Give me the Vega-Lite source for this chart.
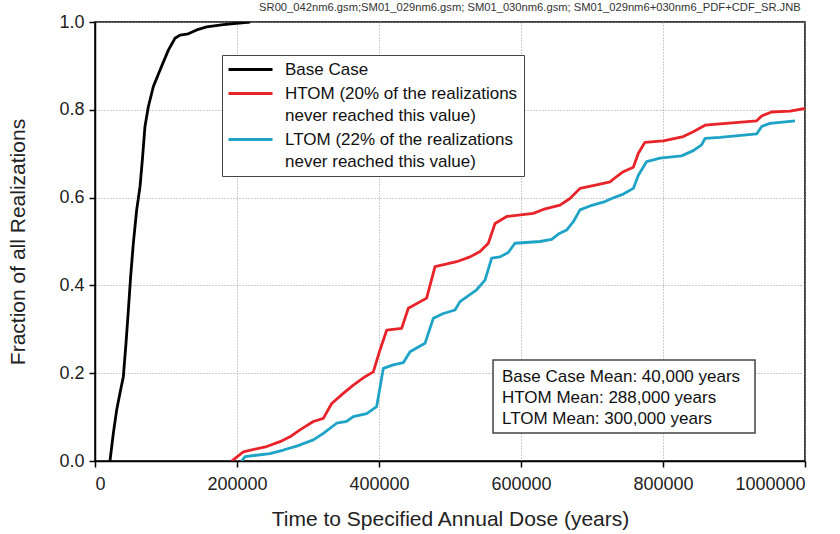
{
  "$schema": "https://vega.github.io/schema/vega-lite/v6.json",
  "width": 710,
  "height": 439,
  "autosize": {"type": "none"},
  "padding": {"left": 95, "top": 22, "right": 35, "bottom": 73},
  "background": "white",
  "title": {
    "text": "SR00_042nm6.gsm;SM01_029nm6.gsm; SM01_030nm6.gsm; SM01_029nm6+030nm6_PDF+CDF_SR.JNB",
    "anchor": "end",
    "fontSize": 11.2,
    "fontWeight": "normal",
    "font": "Liberation Sans",
    "color": "#333333",
    "offset": 0,
    "dx": -5
  },
  "config": {
    "font": "Liberation Sans",
    "view": {"stroke": "#000000", "strokeWidth": 1.5},
    "axis": {
      "domainColor": "#000000",
      "domainWidth": 1.5,
      "tickColor": "#000000",
      "tickWidth": 1.5,
      "tickSize": 6,
      "labelFontSize": 18,
      "labelColor": "#222222",
      "titleFontSize": 21,
      "titleFontWeight": "normal",
      "titleColor": "#222222",
      "grid": true,
      "gridColor": "#9a9a9a",
      "gridDash": [1, 2],
      "gridWidth": 1
    }
  },
  "datasets": {
    "cdf": [
      {"series": "Base Case", "years": 21100, "fraction": 0.0},
      {"series": "Base Case", "years": 25800, "fraction": 0.063},
      {"series": "Base Case", "years": 30500, "fraction": 0.116},
      {"series": "Base Case", "years": 35200, "fraction": 0.155},
      {"series": "Base Case", "years": 39900, "fraction": 0.192},
      {"series": "Base Case", "years": 43700, "fraction": 0.269},
      {"series": "Base Case", "years": 47000, "fraction": 0.344},
      {"series": "Base Case", "years": 50200, "fraction": 0.42},
      {"series": "Base Case", "years": 54000, "fraction": 0.496},
      {"series": "Base Case", "years": 58700, "fraction": 0.572},
      {"series": "Base Case", "years": 63400, "fraction": 0.625},
      {"series": "Base Case", "years": 66700, "fraction": 0.686},
      {"series": "Base Case", "years": 70400, "fraction": 0.762},
      {"series": "Base Case", "years": 75100, "fraction": 0.807},
      {"series": "Base Case", "years": 82200, "fraction": 0.853},
      {"series": "Base Case", "years": 91500, "fraction": 0.89},
      {"series": "Base Case", "years": 103300, "fraction": 0.936},
      {"series": "Base Case", "years": 112700, "fraction": 0.963},
      {"series": "Base Case", "years": 119700, "fraction": 0.97},
      {"series": "Base Case", "years": 131400, "fraction": 0.973},
      {"series": "Base Case", "years": 143200, "fraction": 0.982},
      {"series": "Base Case", "years": 157300, "fraction": 0.989},
      {"series": "Base Case", "years": 180700, "fraction": 0.994},
      {"series": "Base Case", "years": 218300, "fraction": 1.0},

      {"series": "HTOM", "years": 192500, "fraction": 0.0},
      {"series": "HTOM", "years": 208900, "fraction": 0.021},
      {"series": "HTOM", "years": 241800, "fraction": 0.033},
      {"series": "HTOM", "years": 260600, "fraction": 0.044},
      {"series": "HTOM", "years": 274600, "fraction": 0.055},
      {"series": "HTOM", "years": 288700, "fraction": 0.071},
      {"series": "HTOM", "years": 307500, "fraction": 0.09},
      {"series": "HTOM", "years": 321600, "fraction": 0.097},
      {"series": "HTOM", "years": 333400, "fraction": 0.131},
      {"series": "HTOM", "years": 349700, "fraction": 0.154},
      {"series": "HTOM", "years": 363800, "fraction": 0.173},
      {"series": "HTOM", "years": 380300, "fraction": 0.192},
      {"series": "HTOM", "years": 392000, "fraction": 0.203},
      {"series": "HTOM", "years": 401400, "fraction": 0.253},
      {"series": "HTOM", "years": 410800, "fraction": 0.298},
      {"series": "HTOM", "years": 431900, "fraction": 0.302},
      {"series": "HTOM", "years": 441300, "fraction": 0.348},
      {"series": "HTOM", "years": 467100, "fraction": 0.371},
      {"series": "HTOM", "years": 478900, "fraction": 0.443},
      {"series": "HTOM", "years": 509400, "fraction": 0.454},
      {"series": "HTOM", "years": 528200, "fraction": 0.465},
      {"series": "HTOM", "years": 542300, "fraction": 0.477},
      {"series": "HTOM", "years": 554000, "fraction": 0.496},
      {"series": "HTOM", "years": 563400, "fraction": 0.541},
      {"series": "HTOM", "years": 579900, "fraction": 0.557},
      {"series": "HTOM", "years": 617300, "fraction": 0.564},
      {"series": "HTOM", "years": 631400, "fraction": 0.573},
      {"series": "HTOM", "years": 654900, "fraction": 0.583},
      {"series": "HTOM", "years": 669000, "fraction": 0.598},
      {"series": "HTOM", "years": 683100, "fraction": 0.621},
      {"series": "HTOM", "years": 706600, "fraction": 0.629},
      {"series": "HTOM", "years": 725400, "fraction": 0.636},
      {"series": "HTOM", "years": 734700, "fraction": 0.648},
      {"series": "HTOM", "years": 744100, "fraction": 0.659},
      {"series": "HTOM", "years": 758200, "fraction": 0.669},
      {"series": "HTOM", "years": 765300, "fraction": 0.701},
      {"series": "HTOM", "years": 774600, "fraction": 0.726},
      {"series": "HTOM", "years": 800400, "fraction": 0.729},
      {"series": "HTOM", "years": 828600, "fraction": 0.739},
      {"series": "HTOM", "years": 842600, "fraction": 0.75},
      {"series": "HTOM", "years": 859200, "fraction": 0.765},
      {"series": "HTOM", "years": 880300, "fraction": 0.768},
      {"series": "HTOM", "years": 931900, "fraction": 0.775},
      {"series": "HTOM", "years": 939000, "fraction": 0.786},
      {"series": "HTOM", "years": 953000, "fraction": 0.795},
      {"series": "HTOM", "years": 978900, "fraction": 0.797},
      {"series": "HTOM", "years": 1000000, "fraction": 0.803},

      {"series": "LTOM", "years": 206600, "fraction": 0.0},
      {"series": "LTOM", "years": 211300, "fraction": 0.01},
      {"series": "LTOM", "years": 246500, "fraction": 0.017},
      {"series": "LTOM", "years": 265300, "fraction": 0.025},
      {"series": "LTOM", "years": 284000, "fraction": 0.034},
      {"series": "LTOM", "years": 307500, "fraction": 0.048},
      {"series": "LTOM", "years": 321600, "fraction": 0.063},
      {"series": "LTOM", "years": 340300, "fraction": 0.086},
      {"series": "LTOM", "years": 354400, "fraction": 0.09},
      {"series": "LTOM", "years": 363800, "fraction": 0.101},
      {"series": "LTOM", "years": 382600, "fraction": 0.108},
      {"series": "LTOM", "years": 396700, "fraction": 0.124},
      {"series": "LTOM", "years": 406100, "fraction": 0.211},
      {"series": "LTOM", "years": 420100, "fraction": 0.219},
      {"series": "LTOM", "years": 434200, "fraction": 0.224},
      {"series": "LTOM", "years": 443700, "fraction": 0.249},
      {"series": "LTOM", "years": 464800, "fraction": 0.268},
      {"series": "LTOM", "years": 476500, "fraction": 0.325},
      {"series": "LTOM", "years": 490600, "fraction": 0.336},
      {"series": "LTOM", "years": 507000, "fraction": 0.344},
      {"series": "LTOM", "years": 514100, "fraction": 0.363},
      {"series": "LTOM", "years": 537500, "fraction": 0.39},
      {"series": "LTOM", "years": 549300, "fraction": 0.412},
      {"series": "LTOM", "years": 558700, "fraction": 0.462},
      {"series": "LTOM", "years": 570400, "fraction": 0.465},
      {"series": "LTOM", "years": 582100, "fraction": 0.475},
      {"series": "LTOM", "years": 591500, "fraction": 0.496},
      {"series": "LTOM", "years": 626800, "fraction": 0.5},
      {"series": "LTOM", "years": 643200, "fraction": 0.505},
      {"series": "LTOM", "years": 652600, "fraction": 0.517},
      {"series": "LTOM", "years": 664300, "fraction": 0.526},
      {"series": "LTOM", "years": 673700, "fraction": 0.545},
      {"series": "LTOM", "years": 683100, "fraction": 0.572},
      {"series": "LTOM", "years": 697200, "fraction": 0.581},
      {"series": "LTOM", "years": 718300, "fraction": 0.591},
      {"series": "LTOM", "years": 727700, "fraction": 0.598},
      {"series": "LTOM", "years": 744100, "fraction": 0.608},
      {"series": "LTOM", "years": 758200, "fraction": 0.621},
      {"series": "LTOM", "years": 765300, "fraction": 0.651},
      {"series": "LTOM", "years": 777000, "fraction": 0.682},
      {"series": "LTOM", "years": 795800, "fraction": 0.69},
      {"series": "LTOM", "years": 826300, "fraction": 0.695},
      {"series": "LTOM", "years": 842600, "fraction": 0.707},
      {"series": "LTOM", "years": 854400, "fraction": 0.72},
      {"series": "LTOM", "years": 859200, "fraction": 0.735},
      {"series": "LTOM", "years": 880300, "fraction": 0.737},
      {"series": "LTOM", "years": 931900, "fraction": 0.745},
      {"series": "LTOM", "years": 939000, "fraction": 0.762},
      {"series": "LTOM", "years": 950700, "fraction": 0.769},
      {"series": "LTOM", "years": 985900, "fraction": 0.775}
    ]
  },
  "layer": [
    {
      "data": {"name": "cdf"},
      "mark": {"type": "line", "strokeWidth": 2.8, "strokeJoin": "round", "clip": true},
      "encoding": {
        "x": {
          "field": "years",
          "type": "quantitative",
          "scale": {"domain": [0, 1000000], "nice": false},
          "axis": {
            "title": "Time to Specified Annual Dose (years)",
            "values": [0, 200000, 400000, 600000, 800000, 1000000],
            "format": "d",
            "labelPadding": 8,
            "titlePadding": 15
          }
        },
        "y": {
          "field": "fraction",
          "type": "quantitative",
          "scale": {"domain": [0, 1], "nice": false},
          "axis": {
            "title": "Fraction of all Realizations",
            "values": [0, 0.2, 0.4, 0.6, 0.8, 1.0],
            "format": ".1f",
            "labelPadding": 5,
            "titlePadding": 30
          }
        },
        "color": {
          "field": "series",
          "type": "nominal",
          "scale": {
            "domain": ["Base Case", "HTOM", "LTOM"],
            "range": ["#000000", "#e8232a", "#1ea3c6"]
          },
          "legend": {
            "title": null,
            "orient": "none",
            "legendX": 127,
            "legendY": 33,
            "fillColor": "#ffffff",
            "strokeColor": "#444444",
            "padding": 6,
            "symbolType": "M-4,0H4",
            "symbolSize": 121,
            "symbolStrokeWidth": 3,
            "symbolOffset": 14,
            "labelFontSize": 17,
            "labelColor": "#111111",
            "labelOffset": 26,
            "labelLimit": 400,
            "rowPadding": 6,
            "labelExpr": "datum.label == 'HTOM' ? ['HTOM (20% of the realizations', 'never reached this value)'] : datum.label == 'LTOM' ? ['LTOM (22% of the realizations', 'never reached this value)'] : datum.label",
            "encode": {
              "labels": {"update": {"lineHeight": {"value": 22}}}
            }
          }
        },
        "detail": {"field": "series"},
        "order": {"field": "years", "type": "quantitative"}
      }
    },
    {
      "data": {"values": [{}]},
      "mark": {"type": "rect", "fill": "#ffffff", "stroke": "#444444", "strokeWidth": 1.5},
      "encoding": {
        "x": {"datum": 560600},
        "x2": {"datum": 929600},
        "y": {"datum": 0.23},
        "y2": {"datum": 0.064}
      }
    },
    {
      "data": {"values": [{}]},
      "mark": {"type": "text", "align": "left", "baseline": "top", "fontSize": 17, "lineHeight": 21, "color": "#111111"},
      "encoding": {
        "x": {"datum": 573200},
        "y": {"datum": 0.209},
        "text": {"value": ["Base Case Mean: 40,000 years", "HTOM Mean: 288,000 years", "LTOM Mean: 300,000 years"]}
      }
    }
  ]
}
